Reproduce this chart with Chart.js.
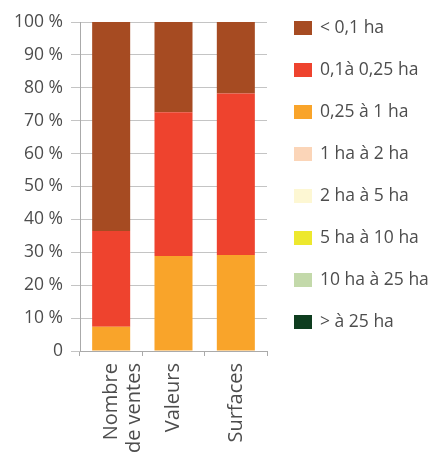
<!DOCTYPE html>
<html>
<head>
<meta charset="utf-8">
<script src="https://cdn.jsdelivr.net/npm/chart.js@4"></script>
<style>
  html, body { margin: 0; padding: 0; background: #fff; }
  #wrap { width: 444px; height: 452px; }
</style>
</head>
<body>
<div id="wrap"><canvas id="c" width="444" height="452"></canvas></div>
<script>
// Categories along the x axis
const categories = [['Nombre', 'de ventes'], 'Valeurs', 'Surfaces'];

// Size classes (legend order, top to bottom)
const classLabels = ['< 0,1 ha', '0,1à 0,25 ha', '0,25 à 1 ha', '1 ha à 2 ha', '2 ha à 5 ha', '5 ha à 10 ha', '10 ha à 25 ha', '> à 25 ha'];
const classColors = ['#A64B22', '#EE432E', '#F9A42A', '#FBD5B8', '#FDF7D3', '#EDE82E', '#C3D9AA', '#0E3D1F'];

// Share (%) of each size class per category
const lt01     = [63.5, 27.4, 21.7];
const s01_025  = [29.1, 43.7, 49.1];
const s025_1   = [7.4, 28.9, 29.2];
const s1_2     = [0, 0, 0];
const s2_5     = [0, 0, 0];
const s5_10    = [0, 0, 0];
const s10_25   = [0, 0, 0];
const gt25     = [0, 0, 0];

// Y tick values
const yTicks = [0, 10, 20, 30, 40, 50, 60, 70, 80, 90, 100];

const series = [lt01, s01_025, s025_1, s1_2, s2_5, s5_10, s10_25, gt25];

// Stack from the largest class at the bottom up to the smallest on top
const datasets = series.map((d, i) => ({
  label: classLabels[i],
  data: d,
  backgroundColor: classColors[i],
  borderWidth: 0,
  barPercentage: 0.61,
  categoryPercentage: 1
})).reverse();

const FONT_FAMILY = '"Open Sans", "Noto Sans", sans-serif';
const TEXT_COLOR = '#4d4d4d';
const yFont = { family: FONT_FAMILY, size: 17.5 };
const xFont = { family: FONT_FAMILY, size: 20, lineHeight: 1.15 };

// Vertical legend on the right, built from the chart's own datasets
const sideLegend = {
  id: 'sideLegend',
  afterDraw(chart) {
    const ctx = chart.ctx;
    const items = chart.data.datasets.slice().reverse();
    const x0 = chart.chartArea.right + 27;
    const y0 = chart.chartArea.top + 6;
    const step = 42;
    ctx.save();
    ctx.font = '17.5px ' + FONT_FAMILY;
    ctx.textBaseline = 'middle';
    ctx.textAlign = 'left';
    items.forEach((ds, i) => {
      const cy = y0 + i * step;
      ctx.fillStyle = ds.backgroundColor;
      ctx.fillRect(x0, cy - 7, 18, 14);
      ctx.fillStyle = TEXT_COLOR;
      ctx.fillText(ds.label, x0 + 26, cy);
    });
    ctx.restore();
  }
};

new Chart(document.getElementById('c'), {
  type: 'bar',
  data: { labels: categories, datasets },
  plugins: [sideLegend],
  options: {
    responsive: false,
    animation: false,
    layout: { padding: { top: 22, left: 0, right: 177, bottom: 0 } },
    plugins: {
      tooltip: { enabled: false },
      legend: { display: false }
    },
    scales: {
      x: {
        stacked: true,
        afterFit: (s) => { s.height = 101; },
        grid: { display: true, drawOnChartArea: false, color: '#aaa', tickLength: 5, offset: true },
        border: { color: '#aaa' },
        ticks: { color: TEXT_COLOR, font: xFont, minRotation: 90, maxRotation: 90, padding: 7 }
      },
      y: {
        stacked: true,
        min: 0,
        max: 100,
        afterFit: (s) => { s.width = 80; },
        afterBuildTicks: (axis) => { axis.ticks = yTicks.map(v => ({ value: v })); },
        grid: { color: '#c4c4c4', tickLength: 9 },
        border: { color: '#aaa' },
        ticks: {
          color: TEXT_COLOR,
          font: yFont,
          padding: 8,
          callback: (v) => v === 0 ? '0' : v + ' %'
        }
      }
    }
  }
});
</script>
</body>
</html>
